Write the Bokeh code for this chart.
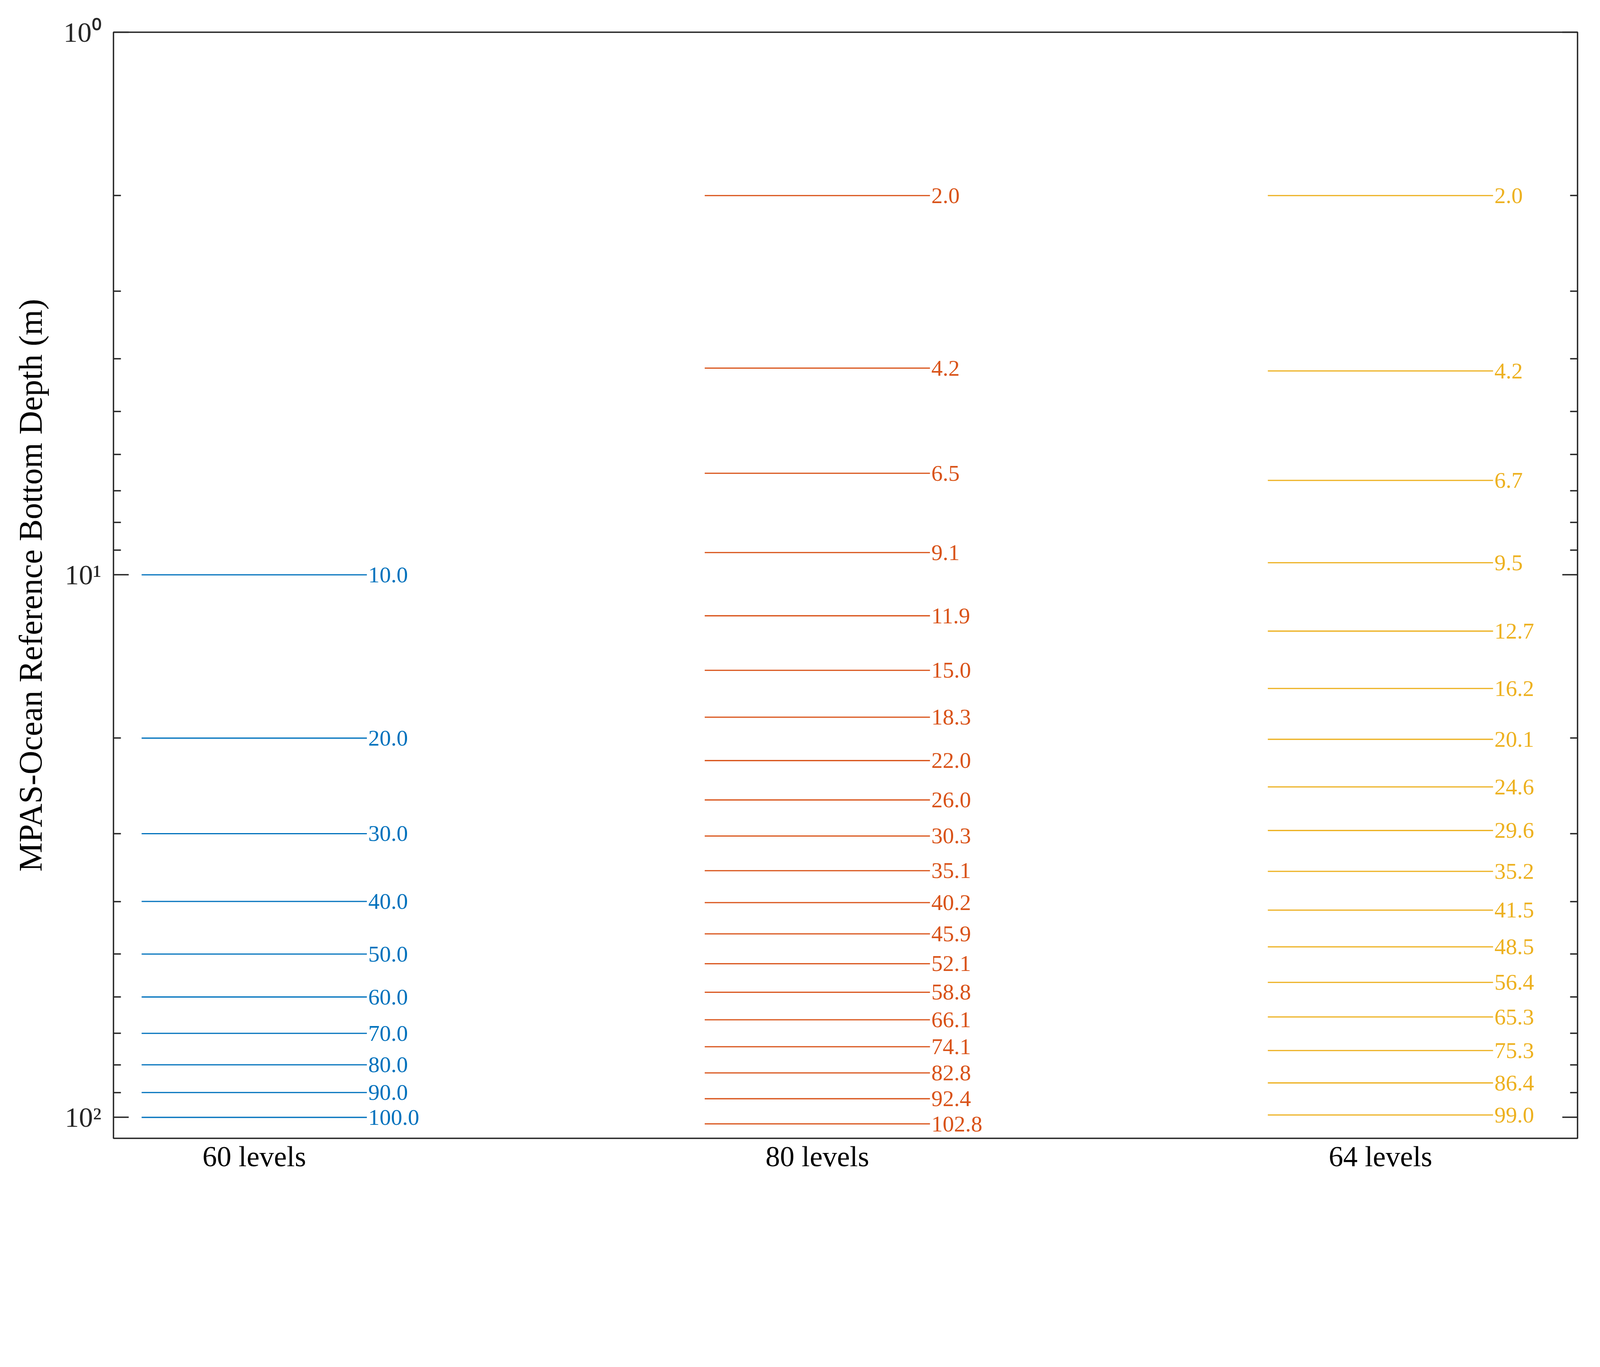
from bokeh.plotting import figure
from bokeh.models import FixedTicker, LogAxis, Range1d, ColumnDataSource
from bokeh.core.properties import value
from bokeh.embed import file_html
from bokeh.resources import INLINE

# ---------------- data ----------------
categories = ["60 levels", "80 levels", "64 levels"]
category_x = [1, 2, 3]
depths_60 = [10.0, 20.0, 30.0, 40.0, 50.0, 60.0, 70.0, 80.0, 90.0, 100.0]
depths_80 = [2.0, 4.16, 6.5, 9.1, 11.9, 15.0, 18.3, 22.0, 26.0, 30.3, 35.1,
             40.2, 45.9, 52.1, 58.8, 66.1, 74.1, 82.8, 92.4, 102.8]
depths_64 = [2.0, 4.21, 6.7, 9.5, 12.7, 16.2, 20.1, 24.6, 29.6, 35.2, 41.5,
             48.5, 56.4, 65.3, 75.3, 86.4, 99.0]
series = [depths_60, depths_80, depths_64]
colors = ["#0072BD", "#D95319", "#EDB120"]
y_major_ticks = [1, 10, 100]
y_major_labels = ["10\u2070", "10\u00b9", "10\u00b2"]
y_minor_ticks = [2, 3, 4, 5, 6, 7, 8, 9, 20, 30, 40, 50, 60, 70, 80, 90]
y_label = "MPAS-Ocean Reference Bottom Depth (m)"
x_lo, x_hi = 0.75, 3.35
y_lo, y_hi = 1.0, 109.3

HALF = 0.2
SERIF = "Liberation Serif"
AXC = "#262626"
S = 0.879  # layout scale


def px(v):
    return "%dpx" % round(v * S)


p = figure(frame_width=3748, frame_height=2832,
           x_range=Range1d(x_lo, x_hi), y_range=Range1d(y_hi, y_lo),
           y_axis_type="log", output_backend="svg", toolbar_location=None,
           min_border_left=290, min_border_right=40, min_border_top=82,
           min_border_bottom=135)
p.background_fill_color = "white"
p.border_fill_color = "white"
p.xgrid.visible = False
p.ygrid.visible = False
p.outline_line_color = AXC
p.outline_line_width = 4 * S

for xc, vals, col in zip(category_x, series, colors):
    src = ColumnDataSource(dict(
        x0=[xc - HALF] * len(vals), x1=[xc + HALF] * len(vals),
        y=vals, lab=["%.1f" % v for v in vals]))
    p.segment(x0="x0", x1="x1", y0="y", y1="y", source=src,
              line_color=col, line_width=3.5 * S)
    p.text(x="x1", y="y", text="lab", source=src, x_offset=4 * S,
           text_align="left", text_baseline="middle",
           text_font=value(SERIF), text_font_size=px(66), text_color=col)

# x axis
xa = p.xaxis[0]
xa.ticker = FixedTicker(ticks=category_x)
xa.major_label_overrides = {k: v for k, v in zip(category_x, categories)}
xa.major_tick_in = 0
xa.major_tick_out = 0
xa.minor_tick_line_color = None
xa.axis_line_color = None
xa.major_label_standoff = round(6 * S)
xa.major_label_text_font = SERIF
xa.major_label_text_font_size = px(84)
xa.major_label_text_color = "black"

# y axis (left)
ya = p.yaxis[0]
ya.ticker = FixedTicker(ticks=y_major_ticks, minor_ticks=y_minor_ticks)
ya.major_label_overrides = {k: v for k, v in zip(y_major_ticks, y_major_labels)}
ya.major_tick_in = round(44 * S)
ya.major_tick_out = 0
ya.minor_tick_in = round(22 * S)
ya.minor_tick_out = 0
ya.major_tick_line_width = 4 * S
ya.minor_tick_line_width = 4 * S
ya.major_tick_line_color = AXC
ya.minor_tick_line_color = AXC
ya.axis_line_color = None
ya.major_label_standoff = 31
ya.major_label_text_font = SERIF
ya.major_label_text_font_size = px(82)
ya.major_label_text_color = AXC
ya.axis_label = y_label
ya.axis_label_text_font = SERIF
ya.axis_label_text_font_size = px(96)
ya.axis_label_text_font_style = "normal"
ya.axis_label_text_color = "black"
ya.axis_label_standoff = 35

# y axis (right, ticks only)
ra = LogAxis(ticker=FixedTicker(ticks=y_major_ticks, minor_ticks=y_minor_ticks))
ra.major_label_overrides = {k: "" for k in y_major_ticks}
ra.major_label_text_font_size = "1px"
ra.major_label_standoff = 0
ra.major_tick_in = round(44 * S)
ra.major_tick_out = 0
ra.minor_tick_in = round(22 * S)
ra.minor_tick_out = 0
ra.major_tick_line_width = 4 * S
ra.minor_tick_line_width = 4 * S
ra.major_tick_line_color = AXC
ra.minor_tick_line_color = AXC
ra.axis_line_color = None
p.add_layout(ra, "right")

open("out.html", "w").write(file_html(p, INLINE))
